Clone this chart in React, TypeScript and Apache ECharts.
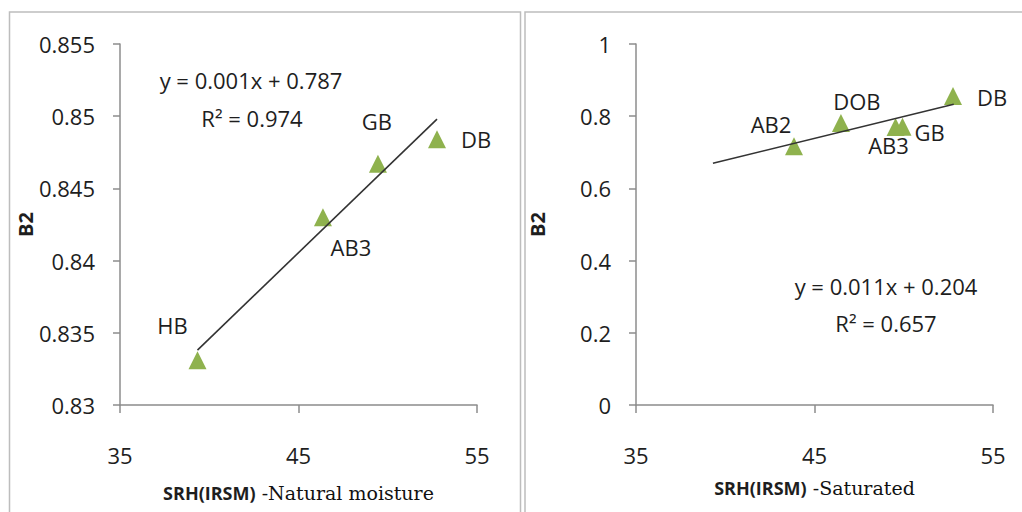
import React, { useEffect, useRef } from "react";
import * as echarts from "echarts";

// ---- data ----
const xTicks = [35, 45, 55];
const leftYTicks = [0.83, 0.835, 0.84, 0.845, 0.85, 0.855];
const rightYTicks = [0, 0.2, 0.4, 0.6, 0.8, 1];

const leftNames = ["HB", "AB3", "GB", "DB"];
const leftX = [39.34, 46.37, 49.45, 52.76];
const leftY = [0.8331, 0.843, 0.8467, 0.8484];

const rightNames = ["AB2", "DOB", "AB3", "GB", "DB"];
const rightX = [43.85, 46.48, 49.54, 49.93, 52.76];
const rightY = [0.717, 0.781, 0.77, 0.771, 0.856];

const leftTrendX = [39.34, 52.76];
const leftTrendY = [0.8338, 0.8498];
const rightTrendX = [39.31, 52.8];
const rightTrendY = [0.6695, 0.833];

const leftEquation = ["y = 0.001x + 0.787", "R² = 0.974"];
const rightEquation = ["y = 0.011x + 0.204", "R² = 0.657"];

const yTitle = "B2";
const xTitleBold = "SRH(IRSM)";
const leftXTitleSerif = " -Natural moisture";
const rightXTitleSerif = " -Saturated";

// ---- layout (not data) ----
const leftLabelOffsets = [
  [-25, -35],
  [28, 30],
  [-1, -43],
  [39, 0],
];
const rightLabelOffsets = [
  [-23, -22],
  [16, -22],
  [-7, 18],
  [27, 5],
  [39, 1],
];

const FONT = '"Open Sans", "Liberation Sans", sans-serif';
const TEXT = "#1e1e1e";
const AXIS = "#8c8c8c";
const GREEN = "#8fb24e";

function ticksInfo(t: number[]) {
  return { min: t[0], max: t[t.length - 1], interval: +(t[1] - t[0]).toFixed(6) };
}

export default function App() {
  const ref = useRef<HTMLDivElement>(null);
  useEffect(() => {
    if (!ref.current) return;
    const chart = echarts.init(ref.current, null, { renderer: "svg" });

    const xAxisBase = (serif: string) => ({
      type: "value",
      ...ticksInfo(xTicks),
      axisLine: { onZero: false, lineStyle: { color: AXIS, width: 1.5 } },
      axisTick: { length: 8, lineStyle: { color: AXIS, width: 1.5 } },
      splitLine: { show: false },
      axisLabel: { margin: 39, fontSize: 22, fontFamily: FONT, color: TEXT },
      name: `{a|${xTitleBold}}{b|${serif}}`,
      nameLocation: "middle",
      nameGap: 78,
      nameTextStyle: {
        rich: {
          a: { fontSize: 18, fontWeight: "bold", fontFamily: FONT, color: TEXT },
          b: { fontSize: 19, fontFamily: '"DejaVu Serif", serif', color: "#111" },
        },
      },
    });
    const yAxisBase = (t: number[], gap: number) => ({
      type: "value",
      ...ticksInfo(t),
      axisLine: { show: true, onZero: false, lineStyle: { color: AXIS, width: 1.5 } },
      axisTick: { show: true, length: 7, lineStyle: { color: AXIS, width: 1.5 } },
      splitLine: { show: false },
      axisLabel: { margin: 25, fontSize: 22, fontFamily: FONT, color: TEXT },
      name: yTitle,
      nameLocation: "middle",
      nameRotate: 90,
      nameGap: gap,
      nameTextStyle: { fontSize: 20, fontWeight: "bold", fontFamily: FONT, color: TEXT },
    });

    const scatter = (
      idx: number,
      names: string[],
      xs: number[],
      ys: number[],
      offsets: number[][]
    ) => ({
      type: "scatter",
      xAxisIndex: idx,
      yAxisIndex: idx,
      symbol: "triangle",
      symbolSize: [18, 18],
      itemStyle: { color: GREEN, opacity: 1 },
      z: 3,
      data: xs.map((x, i) => ({
        value: [x, ys[i]],
        name: names[i],
        label: {
          show: true,
          position: "inside",
          offset: offsets[i],
          formatter: names[i],
          fontSize: 22,
          fontFamily: FONT,
          color: TEXT,
        },
      })),
    });

    const trend = (idx: number, xs: number[], ys: number[]) => ({
      type: "line",
      xAxisIndex: idx,
      yAxisIndex: idx,
      symbol: "none",
      lineStyle: { color: "#333", width: 1.6 },
      z: 4,
      data: xs.map((x, i) => [x, ys[i]]),
    });

    const eqText = (text: string, x: number, y: number) => ({
      type: "text",
      x,
      y,
      style: {
        text,
        fill: TEXT,
        font: `22px ${FONT}`,
        align: "center",
        verticalAlign: "middle",
      },
    });

    chart.setOption({
      animation: false,
      backgroundColor: "#ffffff",
      grid: [
        { left: 120, top: 44, width: 357, height: 361 },
        { left: 636, top: 44, width: 357, height: 361 },
      ],
      xAxis: [
        { ...xAxisBase(leftXTitleSerif), gridIndex: 0 },
        { ...xAxisBase(rightXTitleSerif), gridIndex: 1, nameGap: 73 },
      ],
      yAxis: [
        { ...yAxisBase(leftYTicks, 83), gridIndex: 0 },
        { ...yAxisBase(rightYTicks, 89), gridIndex: 1 },
      ],
      series: [
        trend(0, leftTrendX, leftTrendY),
        scatter(0, leftNames, leftX, leftY, leftLabelOffsets),
        trend(1, rightTrendX, rightTrendY),
        scatter(1, rightNames, rightX, rightY, rightLabelOffsets),
      ],
      graphic: [
        {
          type: "rect",
          shape: { x: 9.5, y: 12, width: 511, height: 530 },
          style: { fill: "none", stroke: "#bdbdbd", lineWidth: 1.5 },
          z: -10,
        },
        {
          type: "rect",
          shape: { x: 525, y: 12, width: 530, height: 530 },
          style: { fill: "none", stroke: "#bdbdbd", lineWidth: 1.5 },
          z: -10,
        },
        eqText(leftEquation[0], 251, 80),
        eqText(leftEquation[1], 252, 118),
        eqText(rightEquation[0], 886, 286),
        eqText(rightEquation[1], 886, 323),
      ],
    });
    return () => chart.dispose();
  }, []);
  return (
    <div
      ref={ref}
      style={{ position: "absolute", left: 0, top: 0, width: 1022, height: 512 }}
    />
  );
}
